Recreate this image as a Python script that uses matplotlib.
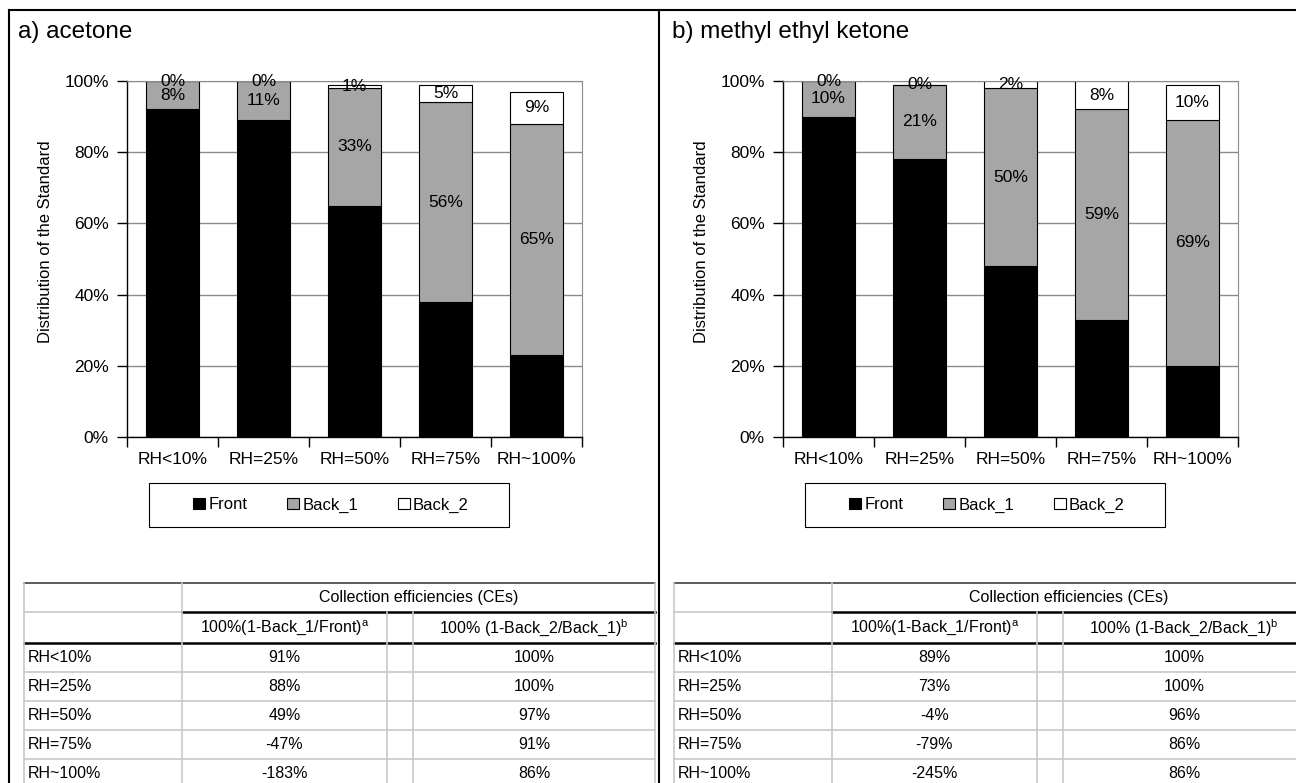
import matplotlib.pyplot as plt
from matplotlib.lines import Line2D
from matplotlib.patches import Patch, Rectangle

plt.rcParams['font.family'] = ['Liberation Sans', 'DejaVu Sans']

W, H = 1296, 783

humidity = ['RH<10%', 'RH=25%', 'RH=50%', 'RH=75%', 'RH~100%']

# distribution of the standard over the three tubes (%)
acetone_front = [92, 89, 65, 38, 23]
acetone_back1 = [8, 11, 33, 56, 65]
acetone_back2 = [0, 0, 1, 5, 9]

mek_front = [90, 78, 48, 33, 20]
mek_back1 = [10, 21, 50, 59, 69]
mek_back2 = [0, 0, 2, 8, 10]

# collection efficiencies
acetone_ce1 = ['91%', '88%', '49%', '-47%', '-183%']
acetone_ce2 = ['100%', '100%', '97%', '91%', '86%']
mek_ce1 = ['89%', '73%', '-4%', '-79%', '-245%']
mek_ce2 = ['100%', '100%', '96%', '86%', '86%']

GRAY = '#a6a6a6'
fig = plt.figure(figsize=(W / 100, H / 100), dpi=100)


def fx(x):
    return x / W


def fy(y):
    return 1 - y / H


def line(x1, y1, x2, y2, color='black', lw=1.0):
    fig.add_artist(Line2D([fx(x1), fx(x2)], [fy(y1), fy(y2)],
                          transform=fig.transFigure, color=color, lw=lw))


def panel(title, title_x, ax_left, front, back1, back2, ce1, ce2, tl, tr):
    fig.text(fx(title_x), fy(32), title, fontsize=17.5, ha='left', va='center')

    ax = fig.add_axes([fx(ax_left), fy(437), 455 / W, 356 / H])
    x = range(len(humidity))
    bottom2 = [f + b for f, b in zip(front, back1)]
    ax.bar(x, front, width=0.59, color='black', edgecolor='black', lw=0.8)
    b1 = ax.bar(x, back1, bottom=front, width=0.59, color=GRAY,
                edgecolor='black', lw=0.8)
    b2 = ax.bar(x, back2, bottom=bottom2, width=0.59, color='white',
                edgecolor='black', lw=0.8)
    ax.bar_label(b1, fmt='%d%%', label_type='center', fontsize=12.5)
    ax.bar_label(b2, fmt='%d%%', label_type='center', fontsize=12.5)

    ax.set_xlim(-0.5, 4.5)
    ax.set_ylim(0, 100)
    ax.set_yticks(range(0, 101, 20))
    ax.set_yticklabels([f'{v}%' for v in range(0, 101, 20)])
    ax.set_xticks(list(x))
    ax.set_xticklabels(humidity)
    ax.set_xticks([i - 0.5 for i in range(6)], minor=True)
    ax.tick_params(axis='y', length=7, width=1, pad=6, labelsize=12.5)
    ax.tick_params(axis='x', which='major', length=0, pad=11, labelsize=12.5)
    ax.tick_params(axis='x', which='minor', length=7, width=1)
    ax.set_axisbelow(True)
    ax.yaxis.grid(True, color='#8c8c8c', lw=1)
    for s in ['top', 'right']:
        ax.spines[s].set_color('#8c8c8c')
    for s in ['left', 'bottom']:
        ax.spines[s].set_color('black')
        ax.spines[s].set_linewidth(1)

    fig.text(fx(ax_left - 81), fy(242), 'Distribution of the Standard',
             rotation=90, ha='center', va='center', fontsize=12)

    # legend with a plain box around it
    lx = ax_left + 22
    fig.add_artist(Rectangle((fx(lx), fy(527)), 360 / W, 44 / H,
                             transform=fig.transFigure, fill=False,
                             ec='black', lw=0.8))
    handles = [Patch(fc='black', ec='black', lw=0.8),
               Patch(fc=GRAY, ec='black', lw=0.8),
               Patch(fc='white', ec='black', lw=0.8)]
    fig.legend(handles, ['Front', 'Back_1', 'Back_2'], loc='center',
               bbox_to_anchor=(fx(lx + 182), fy(505)), ncol=3, frameon=False,
               fontsize=12, handlelength=0.7, handleheight=0.7,
               handletextpad=0.2, columnspacing=2.4)

    # collection efficiency table
    c1, c2, c3 = tl + 158, tl + 363, tl + 389
    light = '#c8c8c8'
    line(tl, 583, tr, 583, '#404040', 1.2)
    line(tl, 612, c1, 612, light, 1.2)
    line(c1, 612, tr, 612, 'black', 1.8)
    line(tl, 643, tr, 643, 'black', 1.8)
    for k in range(4):
        y = 672 + 29 * k
        line(tl, y, tr, y, light, 1.2)
    line(tl, 583, tl, H, light, 1.2)
    line(c1, 583, c1, H, light, 1.2)
    line(c2, 612, c2, H, light, 1.2)
    line(c3, 612, c3, H, light, 1.2)
    line(tr, 583, tr, H, light, 1.2)

    fs = 11.5
    fig.text(fx((c1 + tr) / 2), fy(597.5), 'Collection efficiencies (CEs)',
             ha='center', va='center', fontsize=fs)
    fig.text(fx((c1 + c2) / 2), fy(628), r'100%(1-Back_1/Front)$^\mathregular{a}$',
             ha='center', va='center', fontsize=fs)
    fig.text(fx((c3 + tr) / 2), fy(628), r'100% (1-Back_2/Back_1)$^\mathregular{b}$',
             ha='center', va='center', fontsize=fs)
    for k, (rh, a, b) in enumerate(zip(humidity, ce1, ce2)):
        y = 657.5 + 29 * k
        fig.text(fx(tl + 4), fy(y), rh, ha='left', va='center', fontsize=fs)
        fig.text(fx((c1 + c2) / 2), fy(y), a, ha='center', va='center', fontsize=fs)
        fig.text(fx((c3 + tr) / 2), fy(y), b, ha='center', va='center', fontsize=fs)


panel('a) acetone', 18, 127, acetone_front, acetone_back1, acetone_back2,
      acetone_ce1, acetone_ce2, 24, 655)
panel('b) methyl ethyl ketone', 672, 783, mek_front, mek_back1, mek_back2,
      mek_ce1, mek_ce2, 674, 1305)

# outer frame and divider between the two panels
line(9, 10, W, 10, 'black', 1.5)
line(9, 10, 9, H, 'black', 1.5)
line(659, 10, 659, H, 'black', 1.5)

fig.savefig('out.png', dpi=100)
plt.close(fig)
